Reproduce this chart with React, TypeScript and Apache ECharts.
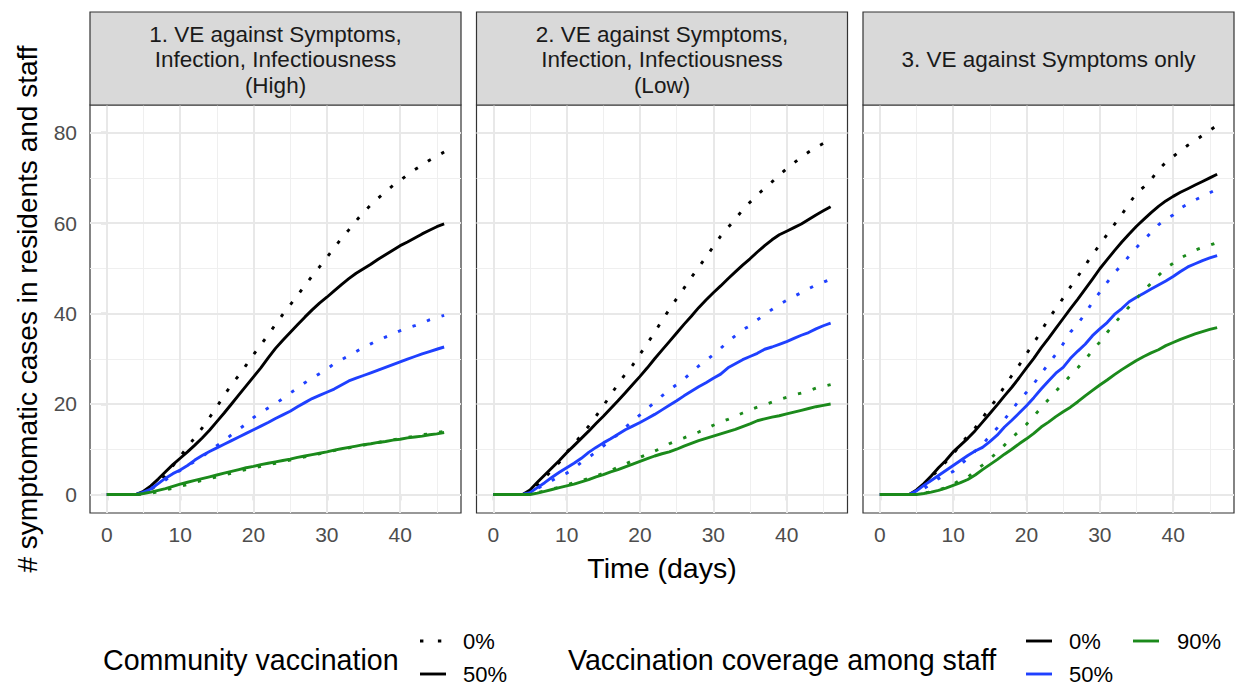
import React, { useEffect, useRef } from "react";
import * as echarts from "echarts";

const FONT = '"Liberation Sans", Arial, Helvetica, sans-serif';

// Day index (x values) 0..46
const DAYS = Array.from({ length: 47 }, (_, i) => i);

const PANEL_TITLES = [
  "1. VE against Symptoms,\nInfection, Infectiousness\n(High)",
  "2. VE against Symptoms,\nInfection, Infectiousness\n(Low)",
  "3. VE against Symptoms only",
];

const X_TICKS = [0, 10, 20, 30, 40];
const X_MINOR = [5, 15, 25, 35, 45];
const Y_TICKS = [0, 20, 40, 60, 80];
const Y_MINOR = [10, 30, 50, 70];

const COMMUNITY_LEVELS = ["0%", "50%"];
const STAFF_LEVELS = ["0%", "50%", "90%"];
const STAFF_COLORS = ["#000000", "#1F40FF", "#1B8A1B"];

// Panel 1
const p1_c0_s0 = [0,0,0,0,0, 0.2,1,2.5,4.3,6.3, 8.4,10.5,12.6,14.7,17, 19.4,21.9,24.3,26.3,28.6, 30.9,33.1,35.3,37.6,39.8, 41.9,44,46.2,48.3,50.3, 52.4,54.5,56.6,58.5,60.5, 62.4,64,65.5,66.9,68.3, 69.4,70.7,71.8,72.8,73.9, 74.8,75.7];
const p1_c50_s0 = [0,0,0,0,0, 0.7,1.9,3.4,5,6.6, 8,9.4,10.9,12.5,14.2, 16.1,18,20,22,24, 26,28,30.2,32.3,34.1, 35.8,37.5,39.2,40.8,42.3, 43.6,45,46.4,47.7,48.9, 49.9,50.9,52,53,54, 55,55.8,56.7,57.6,58.4, 59.2,59.8];
const p1_c0_s50 = [0,0,0,0,0, 0.5,1.3,2.2,3.2,4.3, 5.3,6.4,7.3,8.3,9.6, 10.8,11.9,13.2,14.4,15.6, 17,18.1,19.1,20.1,21.2, 22.4,23.5,24.7,25.7,26.7, 27.7,28.9,29.8,30.7,31.6, 32.5,33.3,34.1,34.8,35.5, 36.2,36.8,37.3,37.9,38.6, 39.1,39.6];
const p1_c50_s50 = [0,0,0,0,0, 0.5,1.2,2.4,3.6,4.6, 5.4,6.4,7.6,8.6,9.5, 10.3,11.1,11.9,12.7,13.5, 14.3,15.1,15.9,16.8,17.6, 18.4,19.4,20.3,21.2,21.9, 22.6,23.3,24.2,25.1,25.7, 26.3,26.9,27.5,28.1,28.7, 29.3,29.9,30.5,31.1,31.6, 32.1,32.6];
const p1_c0_s90 = [0,0,0,0,0, 0.1,0.3,0.6,1,1.4, 1.8,2.2,2.7,3.1,3.5, 3.9,4.3,4.7,5.1,5.5, 5.8,6.2,6.6,6.9,7.3, 7.6,8,8.3,8.7,9, 9.3,9.7,10,10.3,10.6, 10.9,11.2,11.5,11.8,12.1, 12.3,12.6,12.9,13.2,13.4, 13.7,13.9];
const p1_c50_s90 = [0,0,0,0,0, 0.2,0.5,0.9,1.3,1.8, 2.3,2.7,3.1,3.5,3.9, 4.3,4.7,5.1,5.5,5.9, 6.2,6.6,6.9,7.2,7.5, 7.8,8.2,8.5,8.8,9.1, 9.4,9.8,10.1,10.4,10.7, 11,11.2,11.5,11.7,12, 12.2,12.5,12.7,12.9,13.2, 13.4,13.7];

// Panel 2
const p2_c0_s0 = [0,0,0,0,0, 0.3,2,3.7,5.4,7.1, 9.3,11.2,13.1,15.1,17.3, 19.6,22,24.4,26.6,28.6, 31,33.4,35.8,38.5,40.9, 43.3,45.6,48,50.2,52.5, 54.8,57.1,59,60.9,62.9, 64.6,66.2,67.7,69.1,70.6, 72,73.3,74.6,75.7,76.7, 77.6,78.4];
const p2_c50_s0 = [0,0,0,0,0, 1,2.7,4.3,5.9,7.5, 9.2,10.8,12.4,14,15.7, 17.3,19,20.7,22.5,24.3, 26.1,28,30,31.9,33.8, 35.7,37.6,39.4,41.3,43, 44.6,46.1,47.7,49.2,50.7, 52.1,53.6,55,56.3,57.4, 58.2,59,59.8,60.8,61.8, 62.7,63.6];
const p2_c0_s50 = [0,0,0,0,0, 0.5,1.3,2.2,3.1,4, 4.7,5.8,7.1,8.2,9.4, 10.7,12,13.3,14.8,16.2, 17.6,19,20.4,21.8,23.1, 24.3,25.5,27,28.4,29.6, 30.9,32.3,33.8,35.1,36.4, 37.3,38.6,39.7,40.9,42, 42.9,43.8,44.6,45.5,46.3, 46.9,47.6];
const p2_c50_s50 = [0,0,0,0,0, 0.4,1.5,2.6,3.8,4.9, 5.9,6.9,8,9.3,10.4, 11.4,12.3,13.3,14.3,15.1, 15.9,16.8,17.7,18.7,19.7, 20.7,21.8,22.8,23.8,24.7, 25.7,26.6,28,28.9,29.8, 30.5,31.2,32.1,32.6,33.2, 33.8,34.5,35.2,35.8,36.6, 37.3,37.9];
const p2_c0_s90 = [0,0,0,0,0, 0.1,0.4,0.8,1.2,1.6, 2.1,2.6,3,3.6,4.1, 4.7,5.3,6,6.7,7.5, 8.2,8.9,9.6,10.3,11.2, 11.9,12.5,13.2,13.8,14.5, 15.3,16,16.6,17.3,18, 18.7,19.3,19.8,20.4,21, 21.5,22,22.4,22.9,23.5, 23.9,24.3];
const p2_c50_s90 = [0,0,0,0,0, 0,0.3,0.7,1.1,1.5, 1.9,2.3,2.8,3.3,3.9, 4.4,5,5.5,6.1,6.7, 7.3,7.9,8.5,9,9.4, 10,10.7,11.3,11.9,12.4, 12.9,13.4,13.9,14.4,15, 15.6,16.3,16.7,17.1,17.4, 17.8,18.2,18.6,19,19.4, 19.7,20];

// Panel 3
const p3_c0_s0 = [0,0,0,0,0, 0.5,2,3.8,5.5,7.2, 9,11,13,14.7,16.9, 19.2,21.3,23.9,26.3,28.6, 31.1,33.5,36.1,38.8,41.1, 43.4,45.9,48.2,50.6,53.1, 55.2,57.5,59.7,61.9,64.3, 66.6,68,69.6,71.8,73.4, 74.7,76,77.2,78.2,79.4, 80.5,81.6];
const p3_c50_s0 = [0,0,0,0,0, 1,2.4,4.1,5.9,7.5, 9.4,10.9,12.4,14.1,16, 17.9,19.8,21.8,23.7,25.8, 28,30.1,32.4,34.5,36.7, 38.9,41.1,43.2,45.4,47.6, 49.9,51.9,53.9,55.8,57.6, 59.3,60.8,62.3,63.7,64.9, 65.9,66.8,67.6,68.4,69.2, 70,70.8];
const p3_c0_s50 = [0,0,0,0,0, 0.4,1.3,2.3,3.5,4.3, 5.1,6.6,8,9.6,11.1, 12.9,14.7,16.6,18.7,20.8, 22.6,24.5,26.7,28.9,31, 33.3,35.9,37.7,40,42.5, 44.7,46.9,49,50.8,52.7, 54.6,56.3,57.9,59.6,60.9, 61.8,63.3,64.2,65.1,65.9, 66.7,67.5];
const p3_c50_s50 = [0,0,0,0,0, 0.8,2,3.1,4.2,5.3, 6.4,7.5,8.6,9.6,10.4, 11.7,13.1,14.9,16.4,18, 19.6,21.4,23.3,25.1,26.8, 28.1,30.1,31.7,33.2,35.1, 36.6,38,39.8,41.1,42.6, 43.6,44.5,45.4,46.3,47.2, 48.2,49.3,50.3,51,51.7, 52.3,52.8];
const p3_c0_s90 = [0,0,0,0,0, 0,0.3,0.6,1,1.5, 2.2,3.3,3.8,5.3,6.5, 7.8,9.4,10.9,12.5,14, 15.5,17.3,19.2,21,22.8, 24.5,26.3,28,29.8,31.8, 33.7,35.8,37.8,39.7,41.5, 43.3,45.1,46.7,48.4,50, 51.1,52.3,53.1,54,54.6, 55.1,55.7];
const p3_c50_s90 = [0,0,0,0,0, 0,0.2,0.5,0.9,1.4, 2,2.6,3.3,4.3,5.5, 6.6,7.7,8.9,10,11.2, 12.3,13.5,14.9,16,17.2, 18.3,19.3,20.5,21.8,23, 24.2,25.3,26.5,27.6,28.6, 29.6,30.5,31.3,32,32.9, 33.6,34.3,34.9,35.5,36, 36.5,36.9];

// [panel][staff][community]
const PANEL_DATA = [
  [[p1_c0_s0, p1_c50_s0], [p1_c0_s50, p1_c50_s50], [p1_c0_s90, p1_c50_s90]],
  [[p2_c0_s0, p2_c50_s0], [p2_c0_s50, p2_c50_s50], [p2_c0_s90, p2_c50_s90]],
  [[p3_c0_s0, p3_c50_s0], [p3_c0_s50, p3_c50_s50], [p3_c0_s90, p3_c50_s90]],
];

const GRID_LEFTS = [90, 476.5, 863];
const GRID_TOP = 105;
const GRID_W = 371;
const GRID_H = 408;
const STRIP_TOP = 12;
const DOT_DASH = [3.4, 12];
const LINE_W = 2.9;

export default function App() {
  const ref = useRef<HTMLDivElement>(null);

  useEffect(() => {
    if (!ref.current) return;
    const chart = echarts.init(ref.current, null, { renderer: "svg" });

    const grids: any[] = [];
    const xAxes: any[] = [];
    const yAxes: any[] = [];
    const series: any[] = [];
    const graphic: any[] = [];

    PANEL_TITLES.forEach((title, i) => {
      grids.push({
        left: GRID_LEFTS[i],
        top: GRID_TOP,
        width: GRID_W,
        height: GRID_H,
        show: true,
        backgroundColor: "#FFFFFF",
        borderColor: "#333333",
        borderWidth: 1.2,
      });
      xAxes.push({
        type: "value",
        gridIndex: i,
        min: -2.3,
        max: 48.3,
        splitLine: { show: false },
        axisLine: { show: false },
        axisTick: {
          show: true,
          customValues: X_TICKS,
          length: 6,
          lineStyle: { color: "#333333", width: 1.2 },
        },
        axisLabel: {
          customValues: X_TICKS,
          color: "#4D4D4D",
          fontSize: 21,
          fontFamily: FONT,
          margin: 11,
        },
      });
      yAxes.push({
        type: "value",
        gridIndex: i,
        min: -4.1,
        max: 86.1,
        splitLine: { show: false },
        axisLine: { show: false },
        axisTick:
          i === 0
            ? {
                show: true,
                customValues: Y_TICKS,
                length: 6,
                lineStyle: { color: "#333333", width: 1.2 },
              }
            : { show: false },
        axisLabel:
          i === 0
            ? {
                customValues: Y_TICKS,
                color: "#4D4D4D",
                fontSize: 21,
                fontFamily: FONT,
                margin: 13,
              }
            : { show: false },
      });

      // gridlines drawn through the axes' scales
      const gl: any[] = [];
      Y_MINOR.forEach((v) => gl.push({ yAxis: v, lineStyle: { color: "#EFEFEF", width: 1.1, type: "solid" } }));
      X_MINOR.forEach((v) => gl.push({ xAxis: v, lineStyle: { color: "#EFEFEF", width: 1.1, type: "solid" } }));
      Y_TICKS.forEach((v) => gl.push({ yAxis: v, lineStyle: { color: "#E8E8E8", width: 2, type: "solid" } }));
      X_TICKS.forEach((v) => gl.push({ xAxis: v, lineStyle: { color: "#E8E8E8", width: 2, type: "solid" } }));
      series.push({
        type: "line",
        xAxisIndex: i,
        yAxisIndex: i,
        data: [],
        silent: true,
        z: 1,
        markLine: {
          silent: true,
          z: 1,
          symbol: ["none", "none"],
          label: { show: false },
          emphasis: { disabled: true },
          animation: false,
          data: gl,
        },
      });

      PANEL_DATA[i].forEach((staffRow, s) => {
        staffRow.forEach((vals, c) => {
          series.push({
            type: "line",
            name: `${title} staff ${STAFF_LEVELS[s]} community ${COMMUNITY_LEVELS[c]}`,
            xAxisIndex: i,
            yAxisIndex: i,
            data: vals.map((v, d) => [DAYS[d], v]),
            showSymbol: false,
            symbol: "none",
            silent: true,
            z: 3,
            lineStyle: {
              color: STAFF_COLORS[s],
              width: LINE_W,
              type: c === 0 ? DOT_DASH : "solid",
              cap: "butt",
              join: "round",
            },
          });
        });
      });

      // strip
      graphic.push({
        type: "rect",
        shape: { x: GRID_LEFTS[i], y: STRIP_TOP, width: GRID_W, height: GRID_TOP - STRIP_TOP },
        style: { fill: "#D9D9D9", stroke: "#333333", lineWidth: 1.2 },
        z: 10,
      });
      graphic.push({
        type: "text",
        x: GRID_LEFTS[i] + GRID_W / 2,
        y: (STRIP_TOP + GRID_TOP) / 2 + 1,
        style: {
          text: title,
          fill: "#1A1A1A",
          fontSize: 22.5,
          fontFamily: FONT,
          align: "center",
          verticalAlign: "middle",
          lineHeight: 25.5,
        },
        z: 11,
      });
    });

    // axis titles
    graphic.push({
      type: "text",
      x: 27,
      y: GRID_TOP + GRID_H / 2,
      rotation: Math.PI / 2,
      style: {
        text: "# symptomatic cases in residents and staff",
        fill: "#000000",
        fontSize: 28,
        fontFamily: FONT,
        align: "center",
        verticalAlign: "middle",
      },
    });
    graphic.push({
      type: "text",
      x: 662,
      y: 568,
      style: {
        text: "Time (days)",
        fill: "#000000",
        fontSize: 28.5,
        fontFamily: FONT,
        align: "center",
        verticalAlign: "middle",
      },
    });

    const txt = (text: string, x: number, y: number, size: number) => ({
      type: "text",
      x,
      y,
      style: { text, fill: "#000000", fontSize: size, fontFamily: FONT, align: "left", verticalAlign: "middle" },
    });
    const key = (x1: number, y: number, color: string, dash: any) => ({
      type: "line",
      shape: { x1, y1: y, x2: x1 + 26, y2: y },
      style: { stroke: color, lineWidth: LINE_W, lineDash: dash, lineCap: "butt" },
    });

    // legend 1: community vaccination (linetype)
    graphic.push(txt("Community vaccination", 103, 660, 28.6));
    graphic.push(key(420, 641, "#000000", [3.4, 14.5]));
    graphic.push(key(420, 674, "#000000", null));
    graphic.push(txt(COMMUNITY_LEVELS[0], 463, 641, 22));
    graphic.push(txt(COMMUNITY_LEVELS[1], 463, 674, 22));

    // legend 2: staff coverage (colour)
    graphic.push(txt("Vaccination coverage among staff", 568, 660, 28.6));
    graphic.push(key(1026, 641, STAFF_COLORS[0], null));
    graphic.push(txt(STAFF_LEVELS[0], 1069, 641, 22));
    graphic.push(key(1026, 674, STAFF_COLORS[1], null));
    graphic.push(txt(STAFF_LEVELS[1], 1069, 674, 22));
    graphic.push(key(1133, 641, STAFF_COLORS[2], null));
    graphic.push(txt(STAFF_LEVELS[2], 1177, 641, 22));

    chart.setOption({
      animation: false,
      backgroundColor: "#FFFFFF",
      grid: grids,
      xAxis: xAxes,
      yAxis: yAxes,
      series,
      graphic,
    });

    return () => chart.dispose();
  }, []);

  return (
    <div
      ref={ref}
      style={{ position: "fixed", left: 0, top: 0, width: 1238, height: 685, background: "#FFFFFF" }}
    />
  );
}
